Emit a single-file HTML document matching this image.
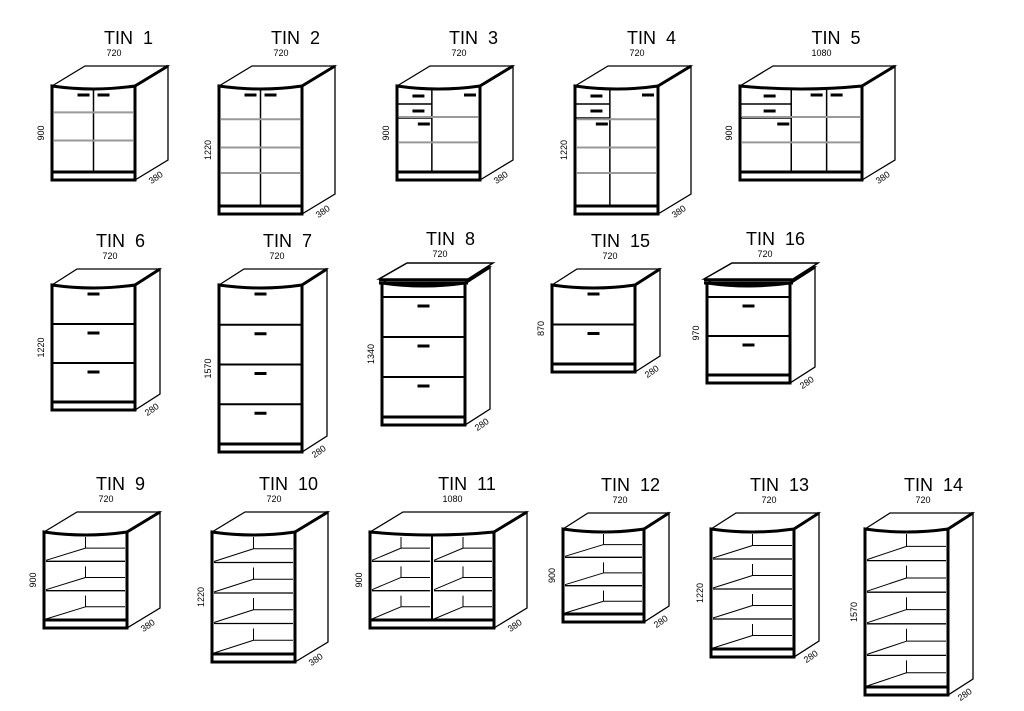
<!DOCTYPE html>
<html><head><meta charset="utf-8"><style>
html,body{margin:0;padding:0;background:#fff;width:1024px;height:711px;overflow:hidden}
svg{display:block}
text{font-family:"Liberation Sans",sans-serif;fill:#000}
</style></head><body>
<svg id="s" width="1024" height="711" viewBox="0 0 1024 711" xmlns="http://www.w3.org/2000/svg"></svg>
<script>
const S=document.getElementById('s');let o='';
function L(a,b,c,d,w,col){o+=`<line x1="${a}" y1="${b}" x2="${c}" y2="${d}" stroke="${col||'#000'}" stroke-width="${w||1}"/>`;}
function handle(cx,cy){L(cx-6,cy,cx+6,cy,3);}
function cab(t,x,y,w,h,dx,dy,ww,hh,dd,type,opt){
 opt=opt||{};
 o+=`<polygon points="${x+w},${y} ${x+w+dx},${y+dy} ${x+w+dx},${y+h+dy} ${x+w},${y+h}" fill="#fff" stroke="#000" stroke-width="1.3"/>`;
 o+=`<path d="M${x},${y} L${x+dx},${y+dy} L${x+w+dx},${y+dy} L${x+w},${y} Q${x+w/2},${y+6} ${x},${y}Z" fill="#fff" stroke="#000" stroke-width="1.3"/>`;
 L(x+w,y,x+w+dx,y+dy,3);
 o+=`<path d="M${x},${y+h} L${x},${y} Q${x+w/2},${y+6} ${x+w},${y} L${x+w},${y+h}Z" fill="none" stroke="#000" stroke-width="3"/>`;
 L(x,y+h-8,x+w,y+h-8,3);
 const ib=y+h-8;
 if(type=='doors'){
  const n=opt.n||2, left=opt.drawers?w*0.42:0;
  const dw=(w-left)/n;
  for(let i=1;i<n;i++)L(x+left+dw*i,y+4,x+left+dw*i,ib,1.5);
  if(left){L(x+left,y+4,x+left,ib,1.5);L(x,y+18,x+left,y+18,1.5);L(x,y+32,x+left,y+32,1.5);
   handle(x+left/2+4,y+10);handle(x+left/2+4,y+25);handle(x+left-8,y+38);}
  const sh=opt.sh||[];
  sh.forEach(f=>L(x+2,y+h*f,x+w-2,y+h*f,2,'#999'));
  for(let i=0;i<n;i++){let cx=x+left+dw*i+(i%2==0?dw-10:10);if(n>2&&i==0&&!left)cx=x+dw/2;handle(cx,y+9);}
 } else if(type=='drawers'){
  const n=opt.n, top=opt.flat?14:0;
  if(top)L(x,y+top,x+w,y+top,2);
  const dh=(ib-y-top)/n;
  for(let i=0;i<n;i++){ if(i>0)L(x,y+top+dh*i,x+w,y+top+dh*i,2); handle(x+w/2,y+top+dh*i+9);}
 } else if(type=='open'){
  const n=opt.n, cols=opt.cols||1;
  const dh=(ib-y)/n;
  for(let c=0;c<cols;c++){
   const cx0=x+c*w/cols, cw=w/cols;
   if(c>0)L(cx0,y+4,cx0,ib,2);
   for(let i=0;i<n;i++){
    const yb=y+dh*(i+1);
    if(i<n-1)L(cx0+2,yb,cx0+cw-2,yb,1.3);
    L(cx0+2,yb-1,cx0+cw*0.5,yb-dh*0.45,1);
    L(cx0+cw*0.5,yb-dh*0.45,cx0+cw-2,yb-dh*0.45,1);
    L(cx0+cw*0.5,yb-dh*0.45,cx0+cw*0.5,y+dh*i+5,1);
   }
  }
 }
 if(opt.flat){o+=`<polygon points="${x-3},${y-4} ${x+dx},${y+dy-4} ${x+w+dx+3},${y+dy-4} ${x+w+3},${y-4}" fill="#fff" stroke="#000" stroke-width="1.5"/>`;L(x-3,y-3,x+w+3,y-3,2.5);L(x-3,y,x+w+3,y,3);}
 const cx=x+w/2;
 o+=`<text x="${cx+dx+2}" y="${y+dy-22}" font-size="18" text-anchor="middle">${t}</text>`;
 o+=`<text x="${cx+dx/2+4}" y="${y+dy-10}" font-size="9" text-anchor="middle">${ww}</text>`;
 o+=`<text transform="translate(${x-8},${y+h/2}) rotate(-90)" font-size="9" text-anchor="middle">${hh}</text>`;
 const sx=x+w+dx/2+6, sy=y+h+dy/2+10;
 o+=`<text transform="translate(${sx},${sy}) rotate(-35)" font-size="9" text-anchor="middle">${dd}</text>`;
}
cab('TIN&#160;&#160;1',52,86,83,94,33,-20,720,900,380,'doors',{sh:[0.28,0.58]});
cab('TIN&#160;&#160;2',219,86,83,128,33,-20,720,1220,380,'doors',{sh:[0.26,0.48,0.68]});
cab('TIN&#160;&#160;3',397,86,83,94,33,-20,720,900,380,'doors',{n:1,drawers:1,sh:[0.33,0.6]});
cab('TIN&#160;&#160;4',575,86,83,128,33,-20,720,1220,380,'doors',{n:1,drawers:1,sh:[0.26,0.48,0.68]});
cab('TIN&#160;&#160;5',740,86,122,94,33,-20,1080,900,380,'doors',{n:2,drawers:1,sh:[0.33,0.6]});
cab('TIN&#160;&#160;6',52,285,83,125,25,-16,720,1220,280,'drawers',{n:3});
cab('TIN&#160;&#160;7',219,285,83,167,25,-16,720,1570,280,'drawers',{n:4});
cab('TIN&#160;&#160;8',382,283,83,142,25,-16,720,1340,280,'drawers',{n:3,flat:1});
cab('TIN&#160;&#160;15',552,285,83,87,25,-16,720,870,280,'drawers',{n:2});
cab('TIN&#160;&#160;16',707,283,83,100,25,-16,720,970,280,'drawers',{n:2,flat:1});
cab('TIN&#160;&#160;9',44,532,83,96,33,-20,720,900,380,'open',{n:3});
cab('TIN&#160;&#160;10',212,532,83,130,33,-20,720,1220,380,'open',{n:4});
cab('TIN&#160;&#160;11',370,532,124,96,33,-20,1080,900,380,'open',{n:3,cols:2});
cab('TIN&#160;&#160;12',563,529,81,93,25,-16,720,900,280,'open',{n:3});
cab('TIN&#160;&#160;13',711,529,83,128,25,-16,720,1220,280,'open',{n:4});
cab('TIN&#160;&#160;14',865,529,83,166,25,-16,720,1570,280,'open',{n:5});
S.innerHTML=o;
</script>
</body></html>
